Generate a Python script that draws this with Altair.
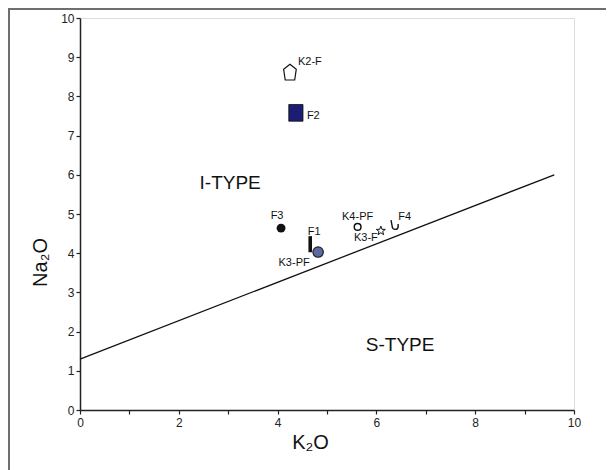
import altair as alt
import pandas as pd

# data
labels = ["K2-F", "F2", "F3", "F1", "K3-PF", "K4-PF", "K3-F", "F4"]
k2o = [4.25, 4.37, 4.07, 4.66, 4.82, 5.62, 6.09, 6.38]
na2o = [8.62, 7.58, 4.64, 4.23, 4.03, 4.67, 4.57, 4.69]

line_k2o = [0.0, 9.6]
line_na2o = [1.3, 6.0]

region_names = ["I-TYPE", "S-TYPE"]
region_k2o = [3.04, 6.48]
region_na2o = [5.79, 1.66]

x_ticks = list(range(0, 11))
y_ticks = list(range(0, 11))

FONT = "Liberation Sans"

pts = pd.DataFrame({"label": labels, "K2O": k2o, "Na2O": na2o})
line_df = pd.DataFrame({"K2O": line_k2o, "Na2O": line_na2o})
reg_df = pd.DataFrame({"name": region_names, "K2O": region_k2o, "Na2O": region_na2o})

xs = alt.Scale(domain=[0, 10], nice=False, zero=False)
ys = alt.Scale(domain=[0, 10], nice=False, zero=False)

X = alt.X("K2O:Q", scale=xs,
          axis=alt.Axis(values=x_ticks, title="K₂O",
                        labelExpr="datum.value % 2 == 0 ? datum.label : ''",
                        grid=False, tickSize=4, tickColor="#222", domainColor="#222",
                        domainWidth=1.5, tickWidth=1.2, labelFontSize=12, labelColor="#222",
                        labelFont=FONT, titleFont=FONT, titleFontSize=20, titleFontWeight="normal",
                        titleColor="#111", titleX=230, titleY=32, titleBaseline="middle",
                        labelPadding=3, labelFlush=False))
Y = alt.Y("Na2O:Q", scale=ys,
          axis=alt.Axis(values=y_ticks, title="Na₂O", grid=False, tickSize=4,
                        tickColor="#222", domainColor="#222", domainWidth=1.5, tickWidth=1.2,
                        labelFontSize=12, labelColor="#222", labelFont=FONT, titleFont=FONT,
                        titleFontSize=20, titleFontWeight="normal", titleColor="#111",
                        titleX=-40, titleY=244, titleBaseline="middle", titleAngle=-90,
                        labelPadding=2, labelFlush=False))

base = alt.Chart(pts)

line = alt.Chart(line_df).mark_line(color="#111", strokeWidth=1.3).encode(x=X, y=Y)

def sel(name):
    return base.transform_filter(alt.datum.label == name)

pent = "M0,-1 L0.8,-0.35 L0.6,1 L-0.6,1 L-0.8,-0.35 Z"
sq = "M-0.85,-1 L0.85,-1 L0.85,1 L-0.85,1 Z"
bar = "M-0.22,-1 L0.22,-1 L0.22,1 L-0.22,1 Z"
cup = "M-0.7,-1 L-0.5,0.05 A0.5,0.5 0 1 0 0.5,0.05 L0.5,-0.35"

marks = [
    sel("K2-F").mark_point(shape=pent, size=250, filled=False, color="#111", strokeWidth=1.2, opacity=1).encode(x=X, y=Y),
    sel("F2").mark_point(shape=sq, size=280, filled=True, color="#1c1c72", stroke="#111", strokeWidth=0.8, opacity=1).encode(x=X, y=Y),
    sel("F3").mark_point(shape="circle", size=80, filled=True, color="#111", opacity=1).encode(x=X, y=Y),
    sel("F1").mark_point(shape=bar, size=260, filled=True, color="#111", opacity=1).encode(x=X, y=Y),
    sel("K3-PF").mark_point(shape="circle", size=110, filled=True, fill="#5d6aa0", stroke="#222", strokeWidth=1.2, opacity=1).encode(x=X, y=Y),
    sel("K4-PF").mark_point(shape="circle", size=45, filled=False, color="#111", strokeWidth=1.5, opacity=1).encode(x=X, y=Y),
    sel("K3-F").mark_point(shape="M0,-1 L0.24,-0.33 L0.95,-0.31 L0.38,0.12 L0.59,0.81 L0,0.4 L-0.59,0.81 L-0.38,0.12 L-0.95,-0.31 L-0.24,-0.33 Z", size=90, filled=False, color="#111", strokeWidth=1, opacity=1).encode(x=X, y=Y),
    sel("F4").mark_point(shape=cup, size=140, filled=False, color="#111", strokeWidth=1.4, opacity=1).encode(x=X, y=Y),
]

label_pos = {
    "K2-F": (8, -10, "left"),
    "F2": (11, 3, "left"),
    "F3": (-4, -12, "center"),
    "F1": (4, -12, "center"),
    "K3-PF": (-24, 11, "center"),
    "K4-PF": (0, -10, "center"),
    "K3-F": (-3, 7, "right"),
    "F4": (3, -9, "left"),
}
texts = []
for name in labels:
    dx, dy, al = label_pos[name]
    texts.append(sel(name).mark_text(dx=dx, dy=dy, align=al, baseline="middle", font=FONT,
                                      fontSize=11, color="#111").encode(x=X, y=Y, text="label:N"))

regions = alt.Chart(reg_df).mark_text(font=FONT, fontSize=19, color="#111", align="center",
                                      baseline="middle").encode(x=X, y=Y, text="name:N")

frame_left = alt.Chart(pts).mark_rule(color="#6e6e6e", strokeWidth=2).encode(
    x=alt.value(-71), y=alt.value(-9), y2=alt.value(452))
frame_top = alt.Chart(pts).mark_rule(color="#6e6e6e", strokeWidth=2).encode(
    x=alt.value(-72), x2=alt.value(530), y=alt.value(-9))

chart = alt.layer(line, *marks, *texts, regions, frame_left, frame_top).properties(
    width=494, height=392,
    autosize=alt.AutoSizeParams(type="none"),
    padding={"left": 72, "top": 10, "right": 32, "bottom": 60},
).configure_view(stroke=None).configure(background="white")

chart.save("out.html", embed_options={"renderer": "svg", "actions": False})
